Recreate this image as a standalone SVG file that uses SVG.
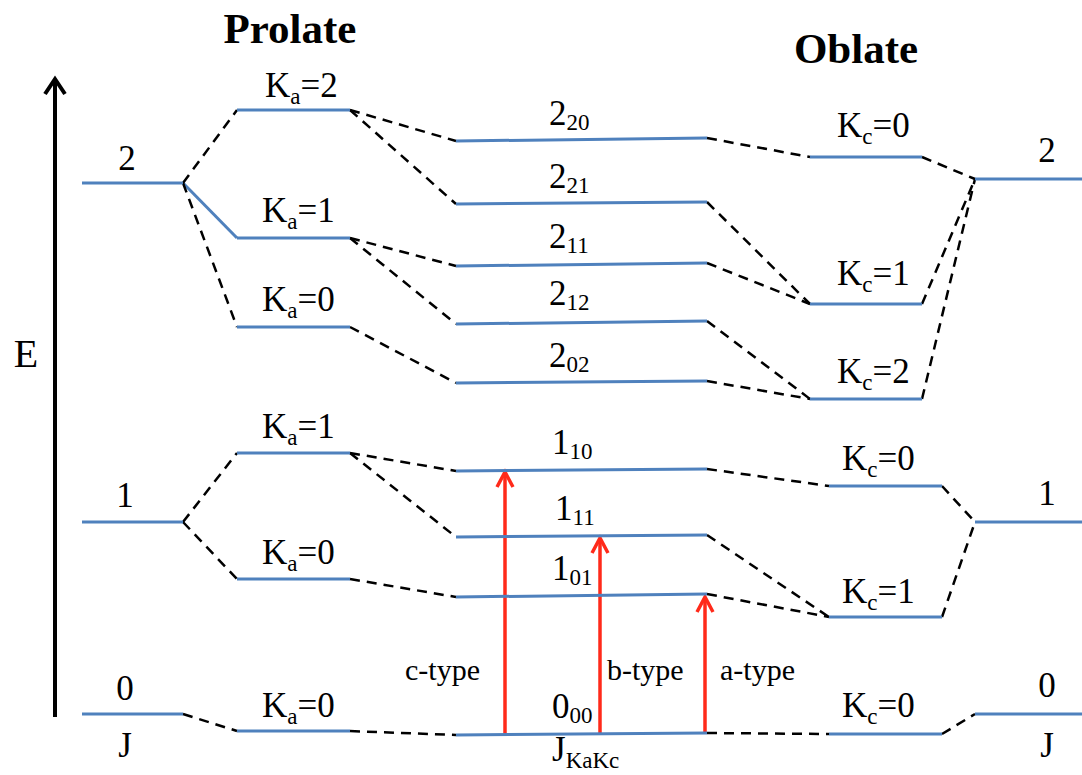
<svg xmlns="http://www.w3.org/2000/svg" width="1082" height="775" viewBox="0 0 1082 775">
<defs>
<style>
.lvl{stroke:#4F81BD;stroke-width:3;fill:none;stroke-linecap:butt}
.dash{stroke:#000;stroke-width:2.5;stroke-dasharray:10,7;fill:none}
.red{stroke:#FF2A1A;stroke-width:3.5;fill:none}
.head{stroke:#FF2A1A;stroke-width:3.5;fill:none;stroke-linejoin:miter}
.t{font-family:"Liberation Serif","Times New Roman",serif;font-size:35px;fill:#000}
.ty{font-family:"Liberation Serif","Times New Roman",serif;font-size:30px;fill:#000}
.e{font-family:"Liberation Serif","Times New Roman",serif;font-size:40px;fill:#000}
.h{font-family:"Liberation Serif","Times New Roman",serif;font-size:43px;font-weight:bold;fill:#000}
.s{font-size:23px}
</style>
</defs>
<rect width="1082" height="775" fill="#fff"/>

<g id="axis">
<line x1="55" y1="717" x2="55" y2="80" stroke="#000" stroke-width="4"/>
<path d="M45,94 L55,79 L65,94" fill="none" stroke="#000" stroke-width="4"/>
<text class="e" x="26" y="367" text-anchor="middle">E</text>
</g>

<g id="titles">
<text class="h" x="290" y="43" text-anchor="middle">Prolate</text>
<text class="h" x="856" y="63" text-anchor="middle">Oblate</text>
</g>

<g id="connectors">
<line class="lvl" x1="183" y1="183" x2="237" y2="238"/>
<line class="dash" x1="183" y1="183" x2="237" y2="110"/>
<line class="dash" x1="183" y1="183" x2="237" y2="327"/>
<line class="dash" x1="183" y1="522" x2="237" y2="453"/>
<line class="dash" x1="183" y1="522" x2="237" y2="579"/>
<line class="dash" x1="183" y1="714" x2="237" y2="731"/>
<line class="dash" x1="350" y1="110" x2="456" y2="141"/>
<line class="dash" x1="350" y1="110" x2="456" y2="204"/>
<line class="dash" x1="350" y1="238" x2="456" y2="266"/>
<line class="dash" x1="350" y1="238" x2="456" y2="324"/>
<line class="dash" x1="350" y1="327" x2="456" y2="383"/>
<line class="dash" x1="350" y1="453" x2="456" y2="471"/>
<line class="dash" x1="350" y1="453" x2="456" y2="537"/>
<line class="dash" x1="350" y1="579" x2="456" y2="597"/>
<line class="dash" x1="350" y1="731" x2="456" y2="735"/>
<line class="dash" x1="707" y1="138" x2="810" y2="157"/>
<line class="dash" x1="707" y1="202" x2="810" y2="304"/>
<line class="dash" x1="707" y1="263" x2="810" y2="304"/>
<line class="dash" x1="707" y1="321" x2="810" y2="399"/>
<line class="dash" x1="707" y1="381" x2="810" y2="399"/>
<line class="dash" x1="707" y1="469" x2="829" y2="486"/>
<line class="dash" x1="707" y1="535" x2="829" y2="617"/>
<line class="dash" x1="707" y1="594" x2="829" y2="617"/>
<line class="dash" x1="707" y1="733" x2="829" y2="734"/>
<line class="dash" x1="922" y1="157" x2="975" y2="179"/>
<line class="dash" x1="922" y1="304" x2="975" y2="179"/>
<line class="dash" x1="922" y1="399" x2="975" y2="179"/>
<line class="dash" x1="942" y1="486" x2="975" y2="522"/>
<line class="dash" x1="942" y1="617" x2="975" y2="522"/>
<line class="dash" x1="942" y1="734" x2="975" y2="714"/>
</g>

<g id="transitions">
<line class="red" x1="505" y1="735" x2="505" y2="472"/>
<path class="head" d="M497,487 L505,472 L513,487"/>
<line class="red" x1="600" y1="735" x2="600" y2="538"/>
<path class="head" d="M592,553 L600,538 L608,553"/>
<line class="red" x1="705" y1="733" x2="705" y2="597"/>
<path class="head" d="M697,612 L705,597 L713,612"/>
</g>

<g id="J2L"><line class="lvl" x1="82" y1="183" x2="183" y2="183"/><text class="t" x="127" y="170" text-anchor="middle">2</text></g>
<g id="J1L"><line class="lvl" x1="82" y1="522" x2="183" y2="522"/><text class="t" x="125" y="507" text-anchor="middle">1</text></g>
<g id="J0L"><line class="lvl" x1="82" y1="714" x2="183" y2="714"/><text class="t" x="125" y="700" text-anchor="middle">0</text><text class="t" x="125" y="757" text-anchor="middle">J</text></g>

<g id="P22"><line class="lvl" x1="237" y1="110" x2="350" y2="110"/><text class="t" x="265" y="97">K<tspan class="s" dy="7">a</tspan><tspan dy="-7">=2</tspan></text></g>
<g id="P21"><line class="lvl" x1="237" y1="238" x2="350" y2="238"/><text class="t" x="262" y="222">K<tspan class="s" dy="7">a</tspan><tspan dy="-7">=1</tspan></text></g>
<g id="P20"><line class="lvl" x1="237" y1="327" x2="350" y2="327"/><text class="t" x="262" y="311">K<tspan class="s" dy="7">a</tspan><tspan dy="-7">=0</tspan></text></g>
<g id="P11"><line class="lvl" x1="237" y1="453" x2="350" y2="453"/><text class="t" x="262" y="438">K<tspan class="s" dy="7">a</tspan><tspan dy="-7">=1</tspan></text></g>
<g id="P10"><line class="lvl" x1="237" y1="579" x2="350" y2="579"/><text class="t" x="262" y="564">K<tspan class="s" dy="7">a</tspan><tspan dy="-7">=0</tspan></text></g>
<g id="P00"><line class="lvl" x1="237" y1="731" x2="350" y2="731"/><text class="t" x="262" y="717">K<tspan class="s" dy="7">a</tspan><tspan dy="-7">=0</tspan></text></g>

<g id="L220"><line class="lvl" x1="456" y1="141" x2="707" y2="138"/><text class="t" x="549" y="125">2<tspan class="s" dy="5">20</tspan></text></g>
<g id="L221"><line class="lvl" x1="456" y1="204" x2="707" y2="202"/><text class="t" x="549" y="188">2<tspan class="s" dy="5">21</tspan></text></g>
<g id="L211"><line class="lvl" x1="456" y1="266" x2="707" y2="263"/><text class="t" x="549" y="248">2<tspan class="s" dy="5">11</tspan></text></g>
<g id="L212"><line class="lvl" x1="456" y1="324" x2="707" y2="321"/><text class="t" x="549" y="305">2<tspan class="s" dy="5">12</tspan></text></g>
<g id="L202"><line class="lvl" x1="456" y1="383" x2="707" y2="381"/><text class="t" x="549" y="367">2<tspan class="s" dy="5">02</tspan></text></g>
<g id="L110"><line class="lvl" x1="456" y1="471" x2="707" y2="469"/><text class="t" x="552" y="454">1<tspan class="s" dy="5">10</tspan></text></g>
<g id="L111"><line class="lvl" x1="456" y1="537" x2="707" y2="535"/><text class="t" x="555" y="520">1<tspan class="s" dy="5">11</tspan></text></g>
<g id="L101"><line class="lvl" x1="456" y1="597" x2="707" y2="594"/><text class="t" x="552" y="580">1<tspan class="s" dy="5">01</tspan></text></g>
<g id="L000"><line class="lvl" x1="456" y1="735" x2="707" y2="733"/><text class="t" x="552" y="718">0<tspan class="s" dy="5">00</tspan></text><text class="t" x="552" y="761">J<tspan class="s" dy="7">KaKc</tspan></text></g>

<g id="O20"><line class="lvl" x1="810" y1="157" x2="922" y2="157"/><text class="t" x="837" y="137">K<tspan class="s" dy="7">c</tspan><tspan dy="-7">=0</tspan></text></g>
<g id="O21"><line class="lvl" x1="810" y1="304" x2="922" y2="304"/><text class="t" x="837" y="285">K<tspan class="s" dy="7">c</tspan><tspan dy="-7">=1</tspan></text></g>
<g id="O22"><line class="lvl" x1="810" y1="399" x2="922" y2="399"/><text class="t" x="837" y="383">K<tspan class="s" dy="7">c</tspan><tspan dy="-7">=2</tspan></text></g>
<g id="O10"><line class="lvl" x1="829" y1="486" x2="942" y2="486"/><text class="t" x="842" y="470">K<tspan class="s" dy="7">c</tspan><tspan dy="-7">=0</tspan></text></g>
<g id="O11"><line class="lvl" x1="829" y1="617" x2="942" y2="617"/><text class="t" x="842" y="603">K<tspan class="s" dy="7">c</tspan><tspan dy="-7">=1</tspan></text></g>
<g id="O00"><line class="lvl" x1="829" y1="734" x2="942" y2="734"/><text class="t" x="842" y="717">K<tspan class="s" dy="7">c</tspan><tspan dy="-7">=0</tspan></text></g>

<g id="J2R"><line class="lvl" x1="975" y1="179" x2="1082" y2="179"/><text class="t" x="1047" y="162" text-anchor="middle">2</text></g>
<g id="J1R"><line class="lvl" x1="975" y1="522" x2="1082" y2="522"/><text class="t" x="1047" y="505" text-anchor="middle">1</text></g>
<g id="J0R"><line class="lvl" x1="975" y1="714" x2="1082" y2="714"/><text class="t" x="1047" y="697" text-anchor="middle">0</text><text class="t" x="1047" y="757" text-anchor="middle">J</text></g>

<g id="types">
<text class="ty" x="405" y="680">c-type</text>
<text class="ty" x="607" y="680">b-type</text>
<text class="ty" x="720" y="680">a-type</text>
</g>
</svg>
